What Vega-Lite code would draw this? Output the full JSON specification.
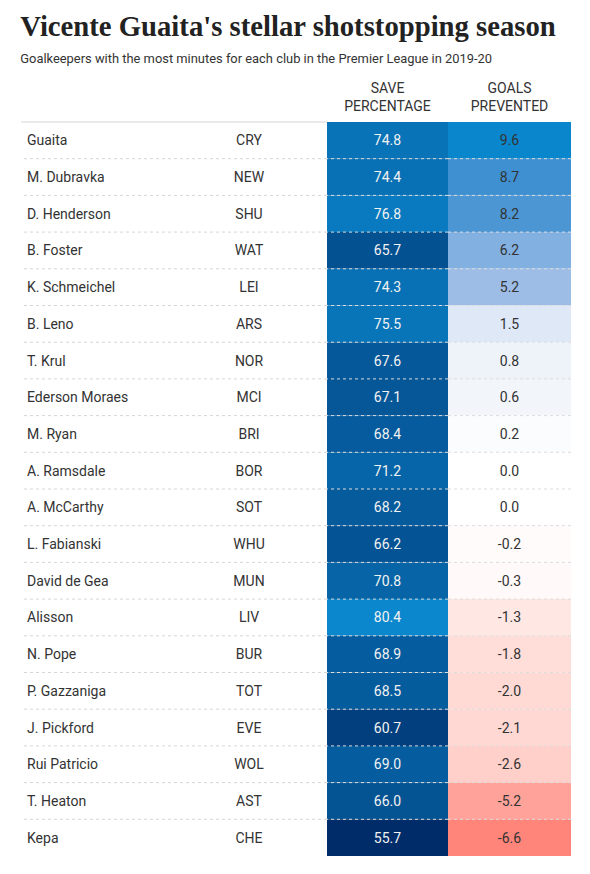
{
  "$schema": "https://vega.github.io/schema/vega-lite/v6.json",
  "background": "white",
  "padding": {"left": 20, "top": 12, "right": 20, "bottom": 0},
  "config": {
    "view": {"stroke": null},
    "font": "Roboto",
    "text": {"font": "Roboto", "fontSize": 14, "dy": 1}
  },
  "title": {
    "text": "Vicente Guaita's stellar shotstopping season",
    "subtitle": "Goalkeepers with the most minutes for each club in the Premier League in 2019-20",
    "anchor": "start",
    "font": "Liberation Serif",
    "fontSize": 28.7,
    "fontWeight": "bold",
    "color": "#222222",
    "subtitleFont": "Roboto",
    "subtitleFontSize": 12.9,
    "subtitleColor": "#333333",
    "subtitlePadding": 11,
    "offset": 16
  },
  "data": {
    "values": [
      {"player": "Guaita", "club": "CRY", "save_pct": 74.8, "goals_prevented": 9.6},
      {"player": "M. Dubravka", "club": "NEW", "save_pct": 74.4, "goals_prevented": 8.7},
      {"player": "D. Henderson", "club": "SHU", "save_pct": 76.8, "goals_prevented": 8.2},
      {"player": "B. Foster", "club": "WAT", "save_pct": 65.7, "goals_prevented": 6.2},
      {"player": "K. Schmeichel", "club": "LEI", "save_pct": 74.3, "goals_prevented": 5.2},
      {"player": "B. Leno", "club": "ARS", "save_pct": 75.5, "goals_prevented": 1.5},
      {"player": "T. Krul", "club": "NOR", "save_pct": 67.6, "goals_prevented": 0.8},
      {"player": "Ederson Moraes", "club": "MCI", "save_pct": 67.1, "goals_prevented": 0.6},
      {"player": "M. Ryan", "club": "BRI", "save_pct": 68.4, "goals_prevented": 0.2},
      {"player": "A. Ramsdale", "club": "BOR", "save_pct": 71.2, "goals_prevented": 0.0},
      {"player": "A. McCarthy", "club": "SOT", "save_pct": 68.2, "goals_prevented": 0.0},
      {"player": "L. Fabianski", "club": "WHU", "save_pct": 66.2, "goals_prevented": -0.2},
      {"player": "David de Gea", "club": "MUN", "save_pct": 70.8, "goals_prevented": -0.3},
      {"player": "Alisson", "club": "LIV", "save_pct": 80.4, "goals_prevented": -1.3},
      {"player": "N. Pope", "club": "BUR", "save_pct": 68.9, "goals_prevented": -1.8},
      {"player": "P. Gazzaniga", "club": "TOT", "save_pct": 68.5, "goals_prevented": -2.0},
      {"player": "J. Pickford", "club": "EVE", "save_pct": 60.7, "goals_prevented": -2.1},
      {"player": "Rui Patricio", "club": "WOL", "save_pct": 69.0, "goals_prevented": -2.6},
      {"player": "T. Heaton", "club": "AST", "save_pct": 66.0, "goals_prevented": -5.2},
      {"player": "Kepa", "club": "CHE", "save_pct": 55.7, "goals_prevented": -6.6}
    ]
  },
  "spacing": 0,
  "bounds": "flush",
  "resolve": {"scale": {"color": "independent"}},
  "hconcat": [
    {
      "width": 150,
      "height": 734,
      "encoding": {
        "y": {"field": "player", "type": "nominal", "sort": null, "scale": {"paddingInner": 0, "paddingOuter": 0}, "axis": null}
      },
      "layer": [
        {
          "mark": {"type": "rule", "color": "#d6d6d6", "strokeDash": [3, 3]},
          "encoding": {
            "y": {"field": "player", "type": "nominal", "sort": null, "bandPosition": 1},
            "strokeOpacity": {"condition": {"test": "datum.player === 'Kepa'", "value": 0}, "value": 1}
          }
        },
        {
          "mark": {"type": "rule", "color": "#e3e3e3", "strokeWidth": 1.5},
          "encoding": {
            "y": {"field": "player", "type": "nominal", "sort": null, "bandPosition": 0},
            "strokeOpacity": {"condition": {"test": "datum.player === 'Guaita'", "value": 1}, "value": 0}
          }
        },
        {
          "mark": {"type": "text", "align": "left", "dx": 6, "color": "#333333"},
          "encoding": {
            "x": {"datum": 0, "type": "quantitative", "scale": {"domain": [0, 1]}, "axis": null},
            "text": {"field": "player"}
          }
        }
      ]
    },
    {
      "width": 156,
      "height": 734,
      "encoding": {
        "y": {"field": "player", "type": "nominal", "sort": null, "scale": {"paddingInner": 0, "paddingOuter": 0}, "axis": null}
      },
      "layer": [
        {
          "mark": {"type": "rule", "color": "#d6d6d6", "strokeDash": [3, 3]},
          "encoding": {
            "y": {"field": "player", "type": "nominal", "sort": null, "bandPosition": 1},
            "strokeOpacity": {"condition": {"test": "datum.player === 'Kepa'", "value": 0}, "value": 1}
          }
        },
        {
          "mark": {"type": "rule", "color": "#e3e3e3", "strokeWidth": 1.5},
          "encoding": {
            "y": {"field": "player", "type": "nominal", "sort": null, "bandPosition": 0},
            "strokeOpacity": {"condition": {"test": "datum.player === 'Guaita'", "value": 1}, "value": 0}
          }
        },
        {
          "mark": {"type": "text", "align": "center", "color": "#333333"},
          "encoding": {"text": {"field": "club"}}
        }
      ]
    },
    {
      "width": 121,
      "height": 734,
      "title": {"text": ["SAVE", "PERCENTAGE"], "font": "Roboto", "fontSize": 14, "fontWeight": "normal", "color": "#333333", "anchor": "middle", "lineHeight": 18.5, "offset": 8},
      "encoding": {
        "y": {"field": "player", "type": "nominal", "sort": null, "scale": {"paddingInner": 0, "paddingOuter": 0}, "axis": null}
      },
      "layer": [
        {
          "mark": {"type": "rect"},
          "encoding": {
            "color": {"field": "save_pct", "type": "quantitative", "scale": {"domain": [55.7, 80.4], "range": ["#002d6a", "#0a87cd"], "interpolate": "rgb"}, "legend": null}
          }
        },
        {
          "mark": {"type": "rule", "color": "#dcdcdc", "strokeDash": [3, 3]},
          "encoding": {
            "y": {"field": "player", "type": "nominal", "sort": null, "bandPosition": 1},
            "strokeOpacity": {"condition": {"test": "datum.player === 'Kepa'", "value": 0}, "value": 1}
          }
        },
        {
          "mark": {"type": "text", "align": "center", "color": "#f2f2f2"},
          "encoding": {"text": {"field": "save_pct", "type": "quantitative", "format": ".1f"}}
        }
      ]
    },
    {
      "width": 123,
      "height": 734,
      "title": {"text": ["GOALS", "PREVENTED"], "font": "Roboto", "fontSize": 14, "fontWeight": "normal", "color": "#333333", "anchor": "middle", "lineHeight": 18.5, "offset": 8},
      "encoding": {
        "y": {"field": "player", "type": "nominal", "sort": null, "scale": {"paddingInner": 0, "paddingOuter": 0}, "axis": null}
      },
      "layer": [
        {
          "mark": {"type": "rect"},
          "encoding": {
            "color": {
              "field": "goals_prevented",
              "type": "quantitative",
              "scale": {
                "domain": [-6.6, -5.2, -2.6, 0, 1.5, 5.2, 8.7, 9.6],
                "range": ["#ff857b", "#ffa39a", "#ffcfc9", "#ffffff", "#dfe8f6", "#9dbde6", "#3f90d1", "#0a86cc"],
                "interpolate": "rgb"
              },
              "legend": null
            }
          }
        },
        {
          "mark": {"type": "rule", "color": "#dcdcdc", "strokeDash": [3, 3]},
          "encoding": {
            "y": {"field": "player", "type": "nominal", "sort": null, "bandPosition": 1},
            "strokeOpacity": {"condition": {"test": "datum.player === 'Kepa'", "value": 0}, "value": 1}
          }
        },
        {
          "transform": [
            {"calculate": "replace(format(datum.goals_prevented, '.1f'), '\u2212', '-')", "as": "goals_label"}
          ],
          "mark": {"type": "text", "align": "center", "color": "#333333"},
          "encoding": {"text": {"field": "goals_label"}}
        }
      ]
    }
  ]
}
